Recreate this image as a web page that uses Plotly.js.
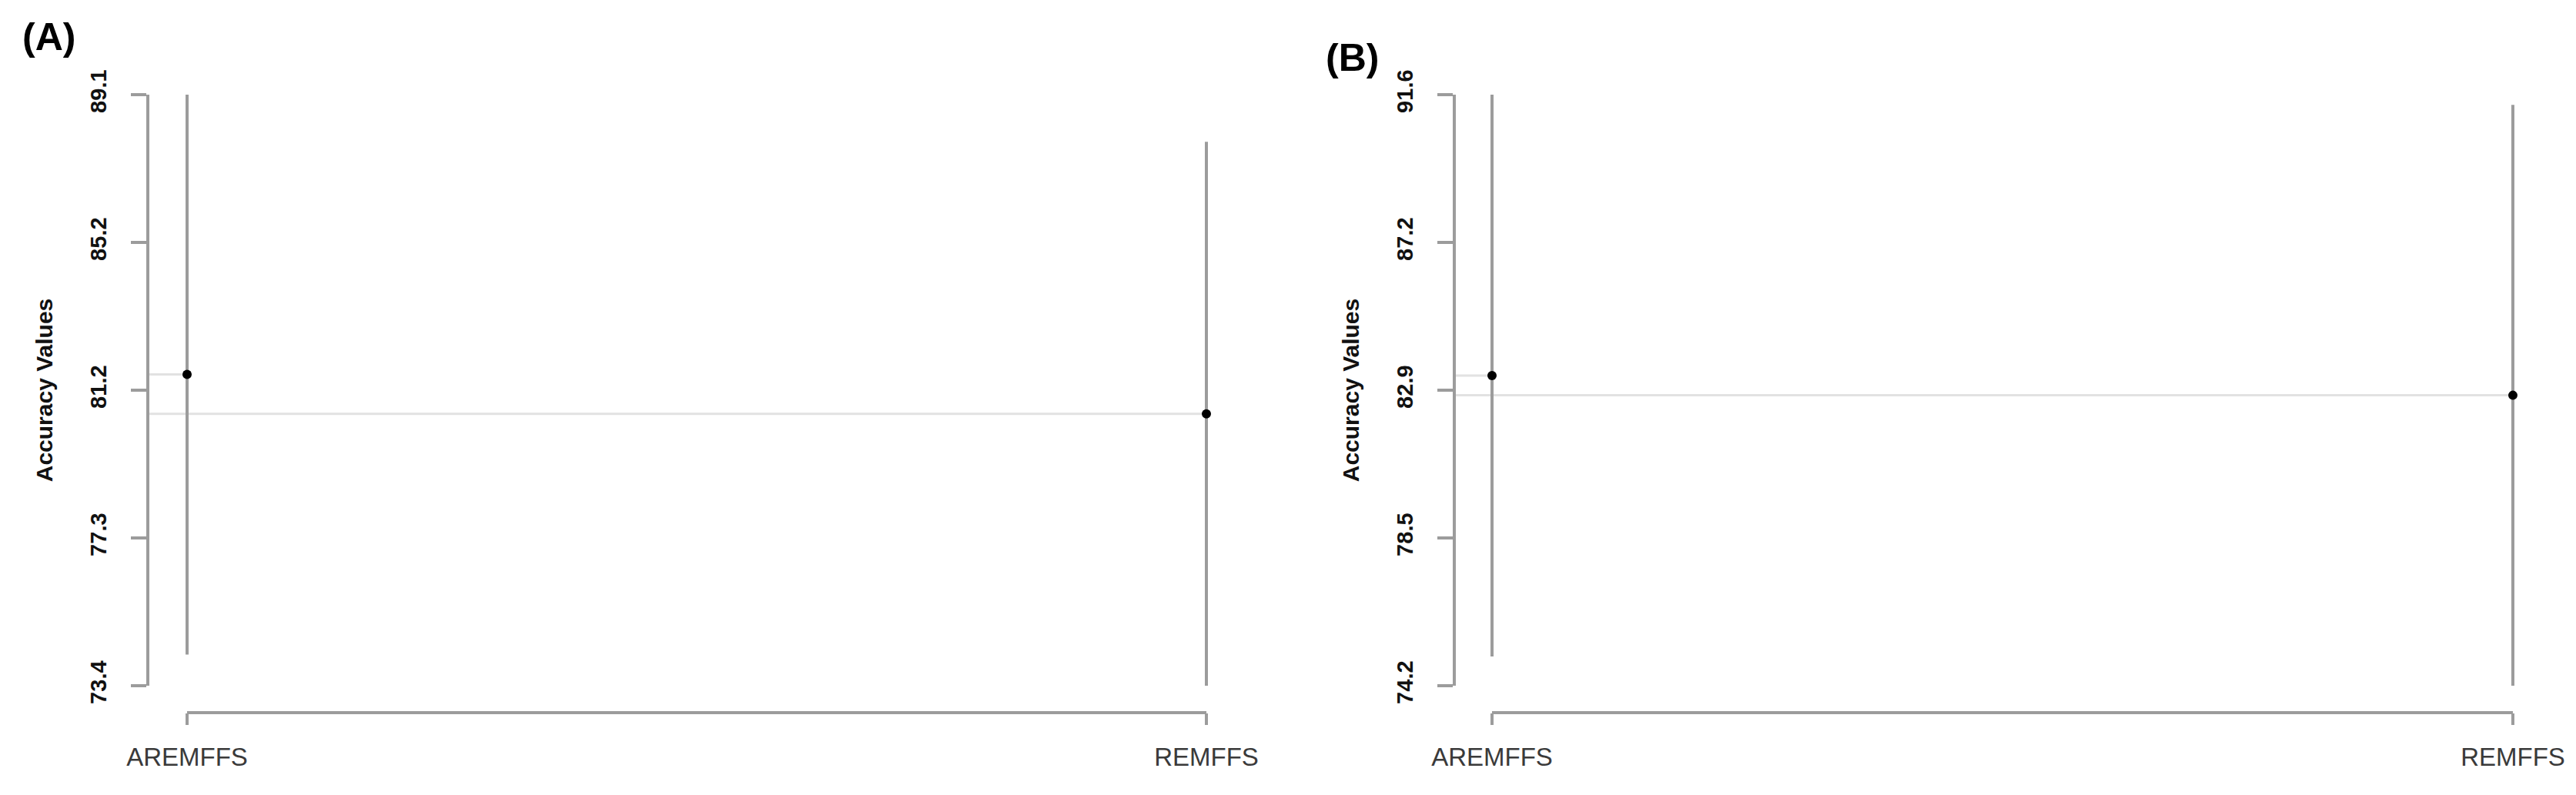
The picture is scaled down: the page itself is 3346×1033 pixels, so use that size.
<!DOCTYPE html>
<html>
<head>
<meta charset="utf-8">
<script src="https://cdn.plot.ly/plotly-3.0.1.min.js"></script>
<style>
  html, body { margin: 0; padding: 0; background: #ffffff; }
  #chart { width: 3346px; height: 1033px; }
</style>
</head>
<body>
<div id="chart"></div>
<script>
// ---------------- DATA ----------------
const categories = ['AREMFFS', 'REMFFS'];

// Panel (A)
const meanA  = [81.67, 80.62];
const lowerA = [74.23, 73.40];
const upperA = [89.10, 87.85];
const yTickTextA = ['73.4', '77.3', '81.2', '85.2', '89.1'];

// Panel (B)
const meanB  = [83.33, 82.75];
const lowerB = [75.06, 74.20];
const upperB = [91.60, 91.30];
const yTickTextB = ['74.2', '78.5', '82.9', '87.2', '91.6'];

const panelLabels = ['(A)', '(B)'];
const yTitle = 'Accuracy Values';

// ---------------- LAYOUT GEOMETRY (pixels) ----------------
const W = 3346, H = 1033;
const px2x = p => p / W;
const px2y = p => (H - p) / H;

const geom = [
  { yAxisX: 192,  cat0: 243,  cat1: 1567, right: 1605, top: 123, bottom: 891, xAxisY: 926, labelX: 64,   labelY: 48 },
  { yAxisX: 1889, cat0: 1938, cat1: 3264, right: 3305, top: 123, bottom: 891, xAxisY: 926, labelX: 1757, labelY: 75 }
];

const panels = [
  { mean: meanA, lower: lowerA, upper: upperA, tickText: yTickTextA },
  { mean: meanB, lower: lowerB, upper: upperB, tickText: yTickTextB }
];

const AXIS_GRAY = '#9c9c9c';
const REF_GRAY = '#e2e2e2';
const FONT = 'Liberation Sans, Arial, sans-serif';

const data = [];
const layout = {
  width: W, height: H,
  margin: { l: 0, r: 0, t: 0, b: 0, pad: 0 },
  paper_bgcolor: '#ffffff',
  plot_bgcolor: 'rgba(0,0,0,0)',
  showlegend: false,
  font: { family: FONT, color: '#000000' },
  shapes: [],
  annotations: []
};

panels.forEach((p, k) => {
  const g = geom[k];
  const sfx = k === 0 ? '' : String(k + 1);
  const xName = 'x' + sfx, yName = 'y' + sfx;
  const nCat = categories.length;

  // x range such that first/last categories land at cat0/cat1 pixels
  const slope = (g.cat1 - g.cat0) / (nCat - 1);
  const r0 = -(g.cat0 - g.yAxisX) / slope;
  const r1 = (nCat - 1) + (g.right - g.cat1) / slope;

  // y ticks: 4 equal intervals between the extreme CI bounds
  const lo = Math.min(...p.lower);
  const hi = Math.max(...p.upper);
  const tickVals = p.tickText.map((_, i) => lo + i * (hi - lo) / (p.tickText.length - 1));

  // reference lines from the y axis to each mean
  categories.forEach((c, i) => {
    layout.shapes.push({
      type: 'line', layer: 'below',
      xref: xName, yref: yName,
      x0: r0, x1: i, y0: p.mean[i], y1: p.mean[i],
      line: { color: REF_GRAY, width: 3 }
    });
  });

  // R-style x axis line spanning first to last category
  layout.shapes.push({
    type: 'line', layer: 'above',
    xref: xName, yref: 'paper',
    x0: 0, x1: nCat - 1, y0: px2y(g.xAxisY), y1: px2y(g.xAxisY),
    line: { color: AXIS_GRAY, width: 4 }
  });

  data.push({
    type: 'scatter', mode: 'markers',
    x: categories,
    y: p.mean,
    xaxis: xName, yaxis: yName,
    cliponaxis: false,
    marker: { color: '#000000', size: 12, symbol: 'circle' },
    error_y: {
      type: 'data', symmetric: false,
      array: p.upper.map((u, i) => u - p.mean[i]),
      arrayminus: p.lower.map((l, i) => p.mean[i] - l),
      color: AXIS_GRAY, thickness: 4, width: 0
    },
    hoverinfo: 'x+y'
  });

  layout['xaxis' + sfx] = {
    type: 'category',
    categoryorder: 'array', categoryarray: categories,
    domain: [px2x(g.yAxisX), px2x(g.right)],
    range: [r0, r1],
    anchor: 'free', position: px2y(g.xAxisY),
    showline: false, showgrid: false, zeroline: false,
    ticks: 'outside', ticklen: 15, tickwidth: 4, tickcolor: AXIS_GRAY,
    ticklabelstandoff: 13,
    tickfont: { family: FONT, size: 33, color: '#3a3a3a' },
    fixedrange: true
  };

  layout['yaxis' + sfx] = {
    domain: [px2y(g.bottom), px2y(g.top)],
    range: [lo, hi],
    anchor: 'free', position: px2x(g.yAxisX),
    showline: true, linecolor: AXIS_GRAY, linewidth: 4,
    showgrid: false, zeroline: false,
    ticks: 'outside', ticklen: 20, tickwidth: 4, tickcolor: AXIS_GRAY,
    ticklabelstandoff: 20,
    tickmode: 'array', tickvals: tickVals, ticktext: p.tickText,
    tickangle: -90,
    tickfont: { family: FONT, size: 29, color: '#111111', weight: 'bold' },
    title: {
      text: yTitle,
      font: { family: FONT, size: 30, color: '#111111', weight: 'bold' },
      standoff: 34
    },
    fixedrange: true
  };

  layout.annotations.push({
    text: panelLabels[k],
    xref: 'paper', yref: 'paper',
    x: px2x(g.labelX), y: px2y(g.labelY),
    xanchor: 'center', yanchor: 'middle',
    showarrow: false,
    font: { family: FONT, size: 50, color: '#000000', weight: 'bold' }
  });
});

Plotly.newPlot('chart', data, layout, { displayModeBar: false, staticPlot: true });
</script>
</body>
</html>
